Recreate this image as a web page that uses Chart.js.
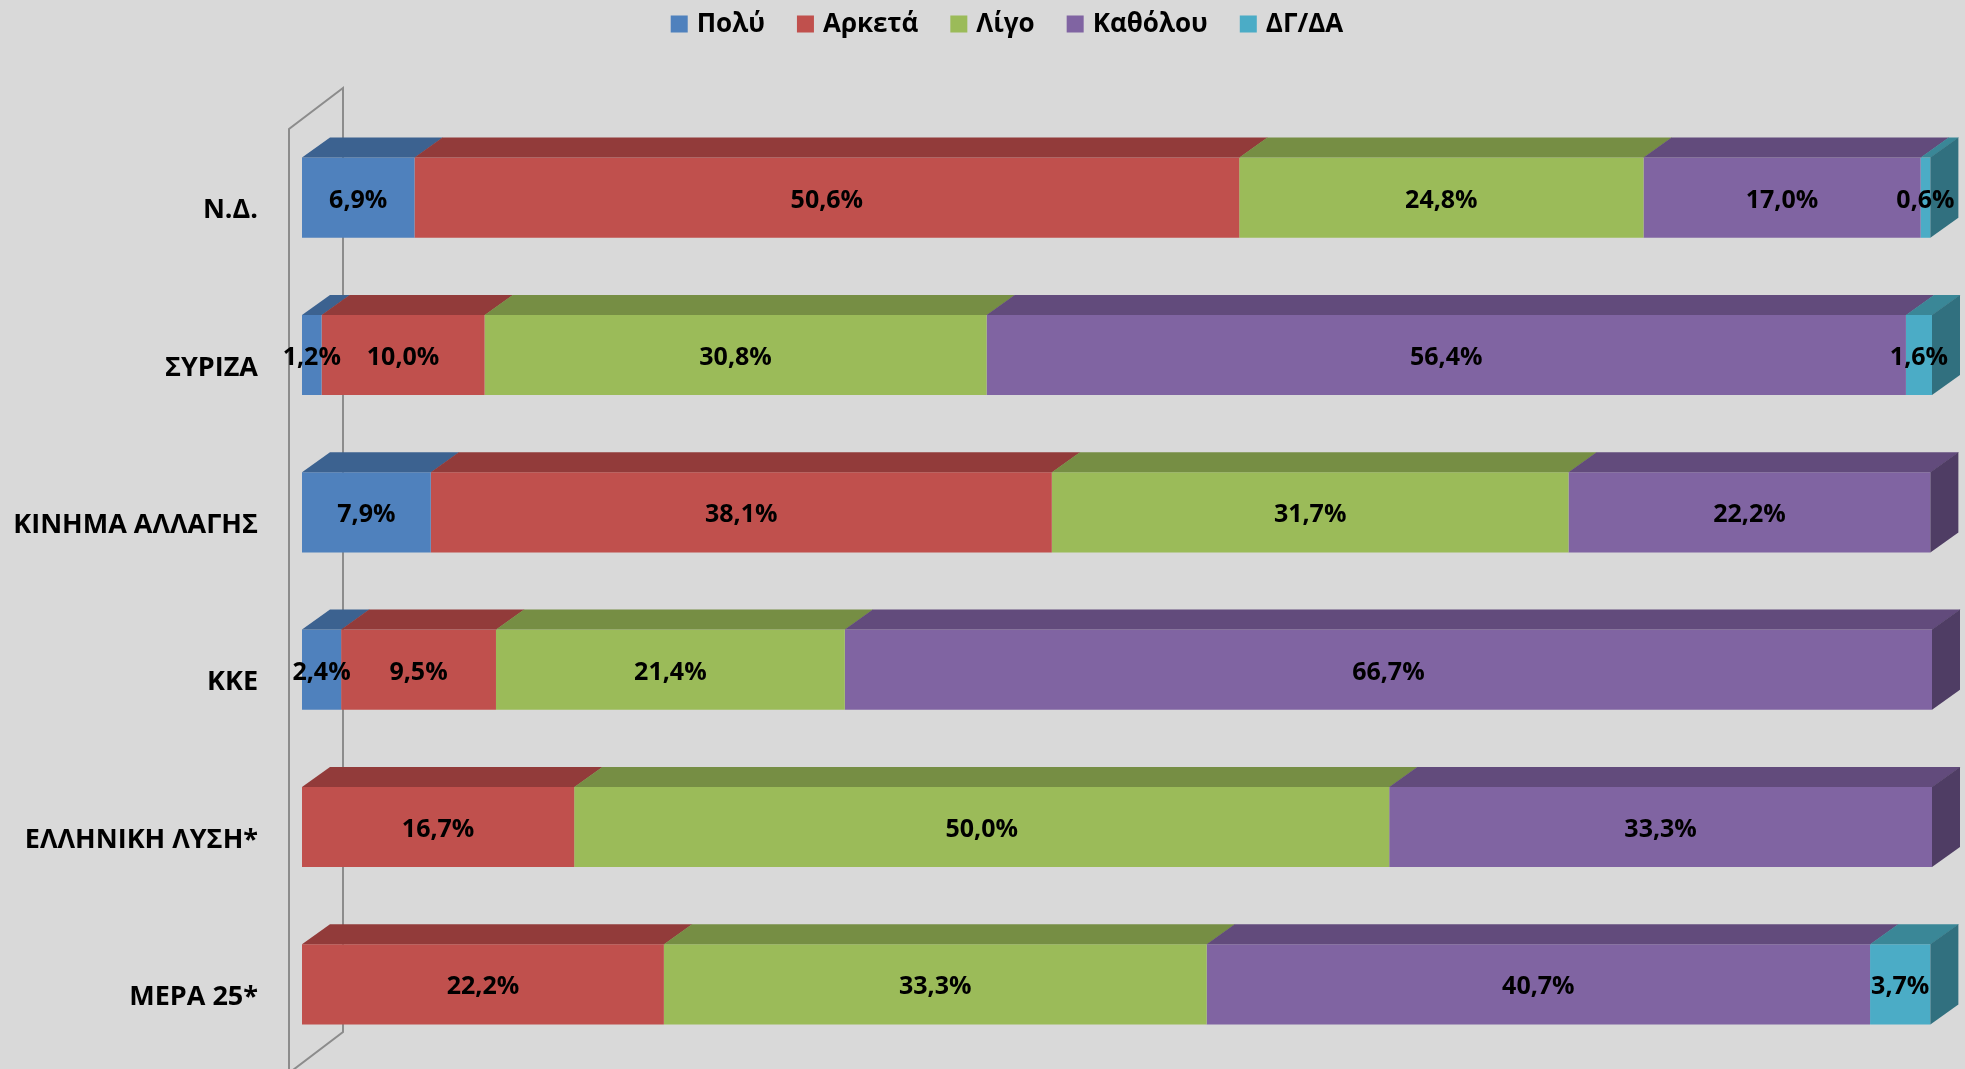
<!DOCTYPE html>
<html><head><meta charset="utf-8">
<script src="https://cdn.jsdelivr.net/npm/chart.js@4/dist/chart.umd.min.js"></script>
<style>html,body{margin:0;padding:0;background:#D9D9D9;}canvas{display:block}</style>
</head><body>
<canvas id="c" width="1965" height="1069"></canvas>
<script>
const categories = ['Ν.Δ.', 'ΣΥΡΙΖΑ', 'ΚΙΝΗΜΑ ΑΛΛΑΓΗΣ', 'ΚΚΕ', 'ΕΛΛΗΝΙΚΗ ΛΥΣΗ*', 'ΜΕΡΑ 25*'];
const seriesNames = ['Πολύ', 'Αρκετά', 'Λίγο', 'Καθόλου', 'ΔΓ/ΔΑ'];
const poly     = [6.9, 1.2, 7.9, 2.4, 0, 0];
const arketa   = [50.6, 10.0, 38.1, 9.5, 16.7, 22.2];
const ligo     = [24.8, 30.8, 31.7, 21.4, 50.0, 33.3];
const katholou = [17.0, 56.4, 22.2, 66.7, 33.3, 40.7];
const dgda     = [0.6, 1.6, 0, 0, 0, 3.7];
const seriesValues = [poly, arketa, ligo, katholou, dgda];

const frontColors = ['#4F81BD', '#C0504D', '#9BBB59', '#8064A2', '#4BACC6'];
const topColors   = ['#3C6290', '#923B3A', '#768E44', '#624B7C', '#3A8797'];
const sideColors  = ['#2F4D72', '#73302E', '#5D7036', '#4F3D64', '#31707F'];
const FONT = '"Open Sans", "DejaVu Sans", sans-serif';
const DX = 28, DY = 20;

const fmt = v => v.toFixed(1).replace('.', ',') + '%';

const threeD = {
  id: 'threeD',
  beforeDatasetsDraw(chart) {
    const ctx = chart.ctx, a = chart.chartArea;
    ctx.save();
    ctx.strokeStyle = '#8C8C8C';
    ctx.lineWidth = 2;
    ctx.beginPath();
    ctx.moveTo(a.left - 13, chart.height + 5);
    ctx.lineTo(a.left - 13, a.top + 10);
    ctx.lineTo(a.left + 41, a.top - 31);
    ctx.lineTo(a.left + 41, a.bottom - 31);
    ctx.lineTo(a.left - 13, a.bottom + 10);
    ctx.stroke();
    ctx.restore();
  },
  afterDatasetsDraw(chart) {
    const ctx = chart.ctx;
    ctx.save();
    const labels = [];
    for (let i = 0; i < categories.length; i++) {
      let last = -1, lastEl = null;
      chart.data.datasets.forEach((ds, d) => {
        if (!ds.data[i]) return;
        const el = chart.getDatasetMeta(d).data[i];
        const p = el.getProps(['x', 'y', 'base', 'height'], true);
        const top = p.y - p.height / 2;
        const x0 = Math.min(p.base, p.x), x1 = Math.max(p.base, p.x);
        ctx.fillStyle = topColors[d];
        ctx.beginPath();
        ctx.moveTo(x0, top); ctx.lineTo(x1 + 0.5, top);
        ctx.lineTo(x1 + DX + 0.5, top - DY); ctx.lineTo(x0 + DX, top - DY);
        ctx.closePath(); ctx.fill();
        last = d; lastEl = p;
        labels.push({x: (x0 + x1) / 2, y: p.y, t: fmt(ds.data[i])});
      });
      if (last >= 0) {
        const p = lastEl;
        const top = p.y - p.height / 2, bot = p.y + p.height / 2;
        const x1 = Math.max(p.base, p.x);
        ctx.fillStyle = sideColors[last];
        ctx.beginPath();
        ctx.moveTo(x1, top); ctx.lineTo(x1 + DX, top - DY);
        ctx.lineTo(x1 + DX, bot - DY); ctx.lineTo(x1, bot);
        ctx.closePath(); ctx.fill();
      }
    }
    ctx.fillStyle = '#000';
    ctx.font = 'bold 25px ' + FONT;
    ctx.textAlign = 'center';
    ctx.textBaseline = 'middle';
    labels.forEach(l => ctx.fillText(l.t, l.x, l.y + 3));
    ctx.restore();
  },
  afterDraw(chart) {
    const ctx = chart.ctx;
    ctx.save();
    ctx.font = 'bold 26px ' + FONT;
    ctx.textBaseline = 'middle';
    ctx.textAlign = 'left';
    const box = 17, gap = 9, spacing = 32;
    const widths = seriesNames.map(n => ctx.measureText(n).width);
    const total = widths.reduce((s, w) => s + box + gap + w, 0) + spacing * (seriesNames.length - 1);
    let x = 1007 - total / 2;
    const cy = 24;
    seriesNames.forEach((n, k) => {
      ctx.fillStyle = frontColors[k];
      ctx.fillRect(x, cy - box / 2, box, box);
      ctx.fillStyle = '#000';
      ctx.fillText(n, x + box + gap, cy + 1);
      x += box + gap + widths[k] + spacing;
    });
    ctx.restore();
  }
};

new Chart(document.getElementById('c'), {
  type: 'bar',
  data: {
    labels: categories,
    datasets: seriesNames.map((n, k) => ({
      label: n,
      data: seriesValues[k],
      backgroundColor: frontColors[k],
      borderWidth: 0,
      categoryPercentage: 1,
      barPercentage: 0.51
    }))
  },
  options: {
    indexAxis: 'y',
    responsive: false,
    devicePixelRatio: 1,
    animation: false,
    layout: { padding: { top: 119, bottom: 6, left: 0, right: 33 } },
    plugins: { legend: { display: false }, tooltip: { enabled: false } },
    scales: {
      x: { stacked: true, min: 0, max: 100, display: false },
      y: {
        stacked: true,
        grid: { display: false, drawTicks: false },
        border: { display: false },
        afterFit(s) { s.width = 302; s.paddingTop = 0; s.paddingBottom = 0; },
        ticks: {
          padding: 44,
          labelOffset: 13,
          color: '#000',
          font: { family: FONT, size: 27, weight: 'bold' }
        }
      }
    }
  },
  plugins: [threeD]
});
</script>
</body></html>
